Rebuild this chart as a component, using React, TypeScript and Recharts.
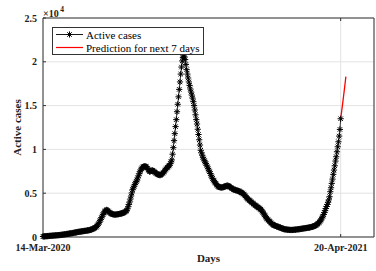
import React from 'react';
import { ComposedChart, Line, XAxis, YAxis, CartesianGrid, Legend, Label } from 'recharts';

// x axis: days since 14-Mar-2020
const xTicks = [0, 402];
const xTickLabels = ['14-Mar-2020', '20-Apr-2021'];
const yTicks = [0, 5000, 10000, 15000, 20000, 25000];

// daily active cases, day 0 .. 402
const activeCases = [
  // 0-25
  60, 70, 75, 85, 90, 100, 105, 110, 120, 125,
  130, 140, 145, 150, 160, 165, 175, 180, 190, 200,
  205, 215, 220, 230, 240, 250,
  // 26-63
  260, 275, 285, 300, 310, 325, 340, 350, 365, 380,
  395, 410, 420, 435, 450, 465, 485, 500, 520, 540,
  555, 570, 585, 600, 610, 625, 640, 655, 665, 680,
  690, 700, 715, 730, 745, 760, 775, 790,
  // 64-97 first bump
  820, 850, 880, 910, 950, 1000, 1050, 1110, 1170,
  1250, 1380, 1520, 1680, 1850,
  2020, 2200, 2380, 2560, 2730,
  2870, 2980, 3060, 3100,
  3050, 2960, 2870, 2790, 2720, 2670, 2630, 2600, 2580, 2560, 2550,
  // 98-174
  2560, 2570, 2580, 2600, 2610, 2630, 2650, 2670, 2690, 2710, 2740,
  2780, 2830, 2890, 2950, 3020,
  3200, 3450, 3720, 4000,
  4330, 4680, 5040, 5400,
  5600, 5800, 5990, 6170, 6340, 6500,
  6740, 6980, 7220, 7450,
  7620, 7780, 7910, 8000,
  8040, 8060, 8070, 8050, 8000,
  7860, 7700, 7560, 7450,
  7500, 7560, 7600, 7600,
  7540, 7460, 7390, 7320, 7260, 7200,
  7150, 7110, 7080, 7050,
  7090, 7150, 7220, 7300,
  7400, 7520, 7640, 7760, 7870,
  7950, 8030, 8110, 8200,
  8380, 8580, 8800,
  // 175-213 main peak
  9450, 10200, 11000, 11800, 12600, 13400, 14300, 15150, 16000, 16850, 17700, 18600, 19400, 20100,
  20500, 20650, 20550,
  20250, 19700, 19100, 18600, 18150, 17700, 17300, 16900, 16550, 16200, 15850, 15450, 15000, 14500, 13950, 13400,
  12900, 12300, 11700, 11100, 10500, 9900,
  // 214-302
  9600, 9350, 9100, 8900, 8700, 8550, 8380, 8200,
  8000, 7800, 7620, 7450, 7250, 7050, 6850, 6680, 6500,
  6380, 6260, 6140, 6020, 5900, 5800,
  5740, 5700, 5680, 5660, 5650, 5660, 5670,
  5700, 5740, 5780, 5820, 5850, 5860, 5850,
  5800, 5740, 5680, 5620, 5560, 5500, 5440,
  5410, 5380, 5350, 5320, 5300, 5280,
  5250, 5210, 5170, 5120, 5070, 5020, 4980,
  4900, 4800, 4700, 4600, 4500, 4400, 4300,
  4230, 4160, 4090, 4020, 3950, 3880, 3800, 3720, 3650,
  3590, 3530, 3470, 3410, 3350, 3290, 3230, 3160, 3080,
  2950, 2810, 2670, 2530, 2390, 2260, 2130,
  // 303-366 trough
  2040, 1950, 1860, 1770, 1680, 1600, 1520, 1440, 1370,
  1340, 1310, 1280, 1250, 1210, 1170,
  1140, 1110, 1080, 1050, 1010, 980, 950, 920, 880,
  870, 860, 850, 840, 830, 820, 810, 805, 800,
  805, 810, 815, 825, 835, 845, 855, 865, 875, 885, 895, 910,
  920, 935, 950, 965, 980, 995, 1010, 1020, 1030, 1045, 1060,
  1075, 1090, 1110, 1130, 1150, 1180, 1210, 1240,
  // 367-402 second wave
  1280, 1320, 1370, 1430, 1500, 1580, 1680, 1790, 1920, 2060,
  2210, 2380, 2570, 2780, 3010, 3250, 3480, 3720, 3970, 4240,
  4600, 5170, 5620, 6120, 6610, 7150, 7640, 8130, 8670, 9160,
  9730, 10300, 10870, 11520, 12280, 13500,
];

const predictionDays = [402, 403, 404, 405, 406, 407, 408, 409];
const predictionValues = [13500, 14150, 14800, 15450, 16150, 16850, 17550, 18300];

type Row = { day: number; active?: number; pred?: number };
const data: Row[] = activeCases.map((v, i) => ({ day: i, active: v }));
predictionDays.forEach((d, i) => {
  const row = data.find((r) => r.day === d);
  if (row) row.pred = predictionValues[i];
  else data.push({ day: d, pred: predictionValues[i] });
});

const FONT = 'Liberation Serif, serif';
const AXIS = '#333';

const renderStar = (props: any) => {
  const { cx, cy, index } = props;
  if (cx == null || cy == null) return <g key={`s${index}`} />;
  const r = 3.1;
  const d = r * 0.72;
  return (
    <g key={`s${index}`} stroke="#000" strokeWidth={1}>
      <line x1={cx - r} y1={cy} x2={cx + r} y2={cy} />
      <line x1={cx} y1={cy - r} x2={cx} y2={cy + r} />
      <line x1={cx - d} y1={cy - d} x2={cx + d} y2={cy + d} />
      <line x1={cx - d} y1={cy + d} x2={cx + d} y2={cy - d} />
    </g>
  );
};

const LegendBox = () => (
  <div
    style={{
      width: 150,
      height: 26,
      border: '1px solid #333',
      background: '#fff',
      boxSizing: 'content-box',
    }}
  >
    <svg width={150} height={26} style={{ display: 'block' }}>
      <line x1={3} y1={6.5} x2={30} y2={6.5} stroke="#000" strokeWidth={0.9} />
      {renderStar({ cx: 16.5, cy: 6.5, index: 'lg' })}
      <text x={33} y={10.5} fontFamily={FONT} fontSize={11} fill="#000">Active cases</text>
      <line x1={3} y1={19.5} x2={30} y2={19.5} stroke="#f00" strokeWidth={1.2} />
      <text x={33} y={23.5} fontFamily={FONT} fontSize={11} fill="#000">Prediction for next 7 days</text>
    </svg>
  </div>
);

export default function App() {
  return (
    <div style={{ position: 'absolute', left: 0, top: 0, width: 376, height: 271, background: '#fff' }}>
      <ComposedChart width={376} height={271} data={data} margin={{ top: 17, right: 0, bottom: 0, left: 0 }}>
        <CartesianGrid stroke="#e3e3e3" strokeWidth={1} />
        <XAxis
          dataKey="day"
          type="number"
          domain={[0, 447]}
          ticks={xTicks}
          tickFormatter={(v: number) => xTickLabels[xTicks.indexOf(v)] ?? ''}
          height={34}
          tickSize={-3}
          tickMargin={10}
          interval={0}
          stroke={AXIS}
          tick={{ fill: '#222', fontFamily: FONT, fontSize: 10, fontWeight: 'bold' }}
        >
          <Label
            content={(p: any) => {
              const vb = p.viewBox || {};
              return (
                <text x={vb.x + vb.width / 2} y={262} textAnchor="middle" fontFamily={FONT} fontSize={11} fontWeight="bold" fill="#222">
                  Days
                </text>
              );
            }}
          />
        </XAxis>
        <XAxis
          xAxisId="t"
          dataKey="day"
          type="number"
          orientation="top"
          domain={[0, 447]}
          ticks={[402]}
          height={1}
          tickSize={-3}
          tickFormatter={() => ''}
          stroke={AXIS}
        />
        <YAxis
          type="number"
          domain={[0, 25000]}
          ticks={yTicks}
          width={43}
          tickSize={-3}
          tickMargin={9}
          interval={0}
          stroke={AXIS}
          tickFormatter={(v: number) => String(v / 10000)}
          tick={{ fill: '#222', fontFamily: FONT, fontSize: 10, fontWeight: 'bold' }}
        >
          <Label
            content={(p: any) => {
              const vb = p.viewBox || {};
              const cy = vb.y + vb.height / 2;
              return (
                <text x={21} y={cy} transform={`rotate(-90 21 ${cy})`} textAnchor="middle" fontFamily={FONT} fontSize={11} fontWeight="bold" fill="#222">
                  Active cases
                </text>
              );
            }}
          />
          <Label
            content={() => (
              <text x={43} y={17} fontFamily={FONT} fontSize={10} fontWeight="bold" fill="#222">
                ×10<tspan dx={1.5} dy={-5} fontSize={7.5}>4</tspan>
              </text>
            )}
          />
        </YAxis>
        <YAxis
          yAxisId="r"
          orientation="right"
          type="number"
          domain={[0, 25000]}
          ticks={yTicks}
          width={2}
          tickSize={-3}
          tickFormatter={() => ''}
          stroke={AXIS}
        />
        <Legend
          layout="vertical"
          align="center"
          verticalAlign="middle"
          content={() => <LegendBox />}
          wrapperStyle={{ position: 'absolute', left: 52, top: 27, width: 152, height: 28 }}
        />
        <Line
          dataKey="active"
          stroke="#000"
          strokeWidth={0.8}
          dot={renderStar}
          activeDot={false}
          isAnimationActive={false}
          legendType="none"
        />
        <Line
          dataKey="pred"
          stroke="#f00"
          strokeWidth={1.3}
          dot={false}
          activeDot={false}
          isAnimationActive={false}
          legendType="none"
        />
      </ComposedChart>
    </div>
  );
}
